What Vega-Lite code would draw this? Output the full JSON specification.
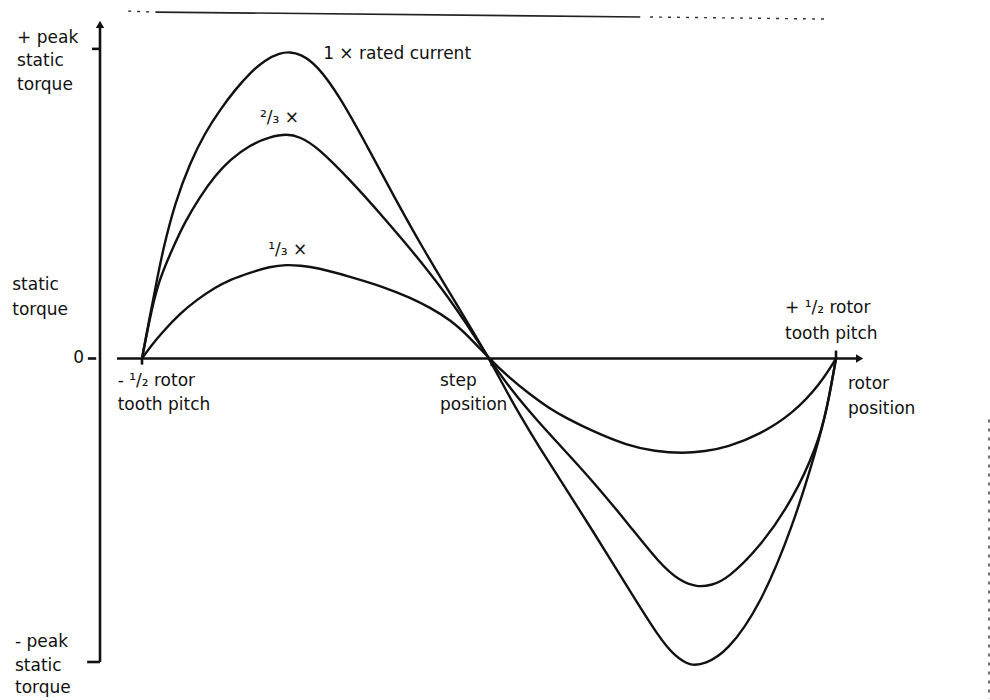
{
  "$schema": "https://vega.github.io/schema/vega-lite/v6.json",
  "width": 990,
  "height": 700,
  "autosize": {"type": "fit", "contains": "padding"},
  "padding": 0,
  "background": "white",
  "config": {"view": {"stroke": null}, "axis": {"disable": true}},
  "datasets": {
    "curves": [
      {"current": "1x", "position": -0.5, "torque": 0},
      {"current": "1x", "position": -0.4885, "torque": 0.1401},
      {"current": "1x", "position": -0.4784, "torque": 0.2573},
      {"current": "1x", "position": -0.4697, "torque": 0.355},
      {"current": "1x", "position": -0.4524, "torque": 0.5081},
      {"current": "1x", "position": -0.4308, "torque": 0.6384},
      {"current": "1x", "position": -0.4092, "torque": 0.7362},
      {"current": "1x", "position": -0.3876, "torque": 0.8111},
      {"current": "1x", "position": -0.366, "torque": 0.8762},
      {"current": "1x", "position": -0.3444, "torque": 0.9316},
      {"current": "1x", "position": -0.3228, "torque": 0.9739},
      {"current": "1x", "position": -0.3012, "torque": 0.9967},
      {"current": "1x", "position": -0.2867, "torque": 1.0},
      {"current": "1x", "position": -0.2723, "torque": 0.9935},
      {"current": "1x", "position": -0.2478, "torque": 0.9577},
      {"current": "1x", "position": -0.2147, "torque": 0.8534},
      {"current": "1x", "position": -0.1758, "torque": 0.6938},
      {"current": "1x", "position": -0.1383, "torque": 0.5342},
      {"current": "1x", "position": -0.0951, "torque": 0.3583},
      {"current": "1x", "position": -0.049, "torque": 0.1857},
      {"current": "1x", "position": 0, "torque": 0},
      {"current": "1x", "position": 0.0231, "torque": -0.0977},
      {"current": "1x", "position": 0.0447, "torque": -0.1857},
      {"current": "1x", "position": 0.0735, "torque": -0.2932},
      {"current": "1x", "position": 0.1023, "torque": -0.3941},
      {"current": "1x", "position": 0.1499, "torque": -0.5635},
      {"current": "1x", "position": 0.1988, "torque": -0.7427},
      {"current": "1x", "position": 0.2464, "torque": -0.9153},
      {"current": "1x", "position": 0.268, "torque": -0.9707},
      {"current": "1x", "position": 0.2896, "torque": -1.0033},
      {"current": "1x", "position": 0.3112, "torque": -0.9967},
      {"current": "1x", "position": 0.3429, "torque": -0.9577},
      {"current": "1x", "position": 0.3905, "torque": -0.8078},
      {"current": "1x", "position": 0.438, "torque": -0.5472},
      {"current": "1x", "position": 0.4726, "torque": -0.2899},
      {"current": "1x", "position": 0.487, "torque": -0.1661},
      {"current": "1x", "position": 0.5, "torque": 0},

      {"current": "2/3x", "position": -0.5, "torque": 0},
      {"current": "2/3x", "position": -0.4885, "torque": 0.1336},
      {"current": "2/3x", "position": -0.4769, "torque": 0.2476},
      {"current": "2/3x", "position": -0.4568, "torque": 0.355},
      {"current": "2/3x", "position": -0.438, "torque": 0.4463},
      {"current": "2/3x", "position": -0.4164, "torque": 0.5277},
      {"current": "2/3x", "position": -0.3948, "torque": 0.5961},
      {"current": "2/3x", "position": -0.3732, "torque": 0.6482},
      {"current": "2/3x", "position": -0.3444, "torque": 0.6971},
      {"current": "2/3x", "position": -0.3156, "torque": 0.7231},
      {"current": "2/3x", "position": -0.2911, "torque": 0.7329},
      {"current": "2/3x", "position": -0.2723, "torque": 0.7231},
      {"current": "2/3x", "position": -0.2478, "torque": 0.6906},
      {"current": "2/3x", "position": -0.2003, "torque": 0.5831},
      {"current": "2/3x", "position": -0.1527, "torque": 0.4625},
      {"current": "2/3x", "position": -0.1037, "torque": 0.3322},
      {"current": "2/3x", "position": -0.0634, "torque": 0.215},
      {"current": "2/3x", "position": -0.0346, "torque": 0.1205},
      {"current": "2/3x", "position": 0, "torque": 0},
      {"current": "2/3x", "position": 0.0303, "torque": -0.0977},
      {"current": "2/3x", "position": 0.0692, "torque": -0.202},
      {"current": "2/3x", "position": 0.1023, "torque": -0.2834},
      {"current": "2/3x", "position": 0.1499, "torque": -0.4007},
      {"current": "2/3x", "position": 0.1988, "torque": -0.5342},
      {"current": "2/3x", "position": 0.2464, "torque": -0.671},
      {"current": "2/3x", "position": 0.2752, "torque": -0.7264},
      {"current": "2/3x", "position": 0.2997, "torque": -0.7459},
      {"current": "2/3x", "position": 0.3213, "torque": -0.7394},
      {"current": "2/3x", "position": 0.3429, "torque": -0.7199},
      {"current": "2/3x", "position": 0.3905, "torque": -0.6156},
      {"current": "2/3x", "position": 0.438, "torque": -0.4593},
      {"current": "2/3x", "position": 0.4726, "torque": -0.2866},
      {"current": "2/3x", "position": 0.487, "torque": -0.1661},
      {"current": "2/3x", "position": 0.5, "torque": 0},

      {"current": "1/3x", "position": -0.5, "torque": 0},
      {"current": "1/3x", "position": -0.4856, "torque": 0.0456},
      {"current": "1/3x", "position": -0.4697, "torque": 0.0879},
      {"current": "1/3x", "position": -0.4452, "torque": 0.1466},
      {"current": "1/3x", "position": -0.4207, "torque": 0.1922},
      {"current": "1/3x", "position": -0.3948, "torque": 0.2313},
      {"current": "1/3x", "position": -0.3732, "torque": 0.2573},
      {"current": "1/3x", "position": -0.3444, "torque": 0.2801},
      {"current": "1/3x", "position": -0.3156, "torque": 0.2997},
      {"current": "1/3x", "position": -0.2911, "torque": 0.3062},
      {"current": "1/3x", "position": -0.2723, "torque": 0.3029},
      {"current": "1/3x", "position": -0.2478, "torque": 0.2964},
      {"current": "1/3x", "position": -0.2003, "torque": 0.2671},
      {"current": "1/3x", "position": -0.1527, "torque": 0.2345},
      {"current": "1/3x", "position": -0.1138, "torque": 0.1987},
      {"current": "1/3x", "position": -0.085, "torque": 0.1661},
      {"current": "1/3x", "position": -0.0562, "torque": 0.127},
      {"current": "1/3x", "position": -0.0274, "torque": 0.0684},
      {"current": "1/3x", "position": 0, "torque": 0},
      {"current": "1/3x", "position": 0.0288, "torque": -0.0619},
      {"current": "1/3x", "position": 0.0591, "torque": -0.1173},
      {"current": "1/3x", "position": 0.085, "torque": -0.1596},
      {"current": "1/3x", "position": 0.1095, "torque": -0.1922},
      {"current": "1/3x", "position": 0.1499, "torque": -0.2378},
      {"current": "1/3x", "position": 0.1988, "torque": -0.2834},
      {"current": "1/3x", "position": 0.2392, "torque": -0.3029},
      {"current": "1/3x", "position": 0.2795, "torque": -0.3094},
      {"current": "1/3x", "position": 0.3112, "torque": -0.3029},
      {"current": "1/3x", "position": 0.3429, "torque": -0.2899},
      {"current": "1/3x", "position": 0.3905, "torque": -0.2476},
      {"current": "1/3x", "position": 0.438, "torque": -0.1792},
      {"current": "1/3x", "position": 0.4769, "torque": -0.0847},
      {"current": "1/3x", "position": 0.5, "torque": 0}
    ],
    "axisLines": [
      {"part": "torque axis", "position": -0.5605, "torque": -0.99, "position_end": -0.5605, "torque_end": 1.085},
      {"part": "+peak tick", "position": -0.572, "torque": 1.01, "position_end": -0.5605, "torque_end": 1.01},
      {"part": "-peak tick", "position": -0.579, "torque": -0.99, "position_end": -0.5605, "torque_end": -0.99},
      {"part": "zero tick", "position": -0.578, "torque": 0, "position_end": -0.566, "torque_end": 0},
      {"part": "position axis", "position": -0.536, "torque": 0, "position_end": 0.53, "torque_end": 0},
      {"part": "-1/2 pitch tick", "position": -0.5, "torque": 0, "position_end": -0.5, "torque_end": -0.02},
      {"part": "step tick", "position": 0.004, "torque": 0, "position_end": 0.004, "torque_end": -0.025},
      {"part": "+1/2 pitch tick", "position": 0.5, "torque": 0, "position_end": 0.5, "torque_end": 0.026}
    ],
    "arrowHeads": [
      {"direction": "up", "position": -0.5605, "torque": 1.09},
      {"direction": "right", "position": 0.534, "torque": 0}
    ],
    "paperEdgeSolid": [
      {"position": -0.48, "torque": 1.13, "position_end": 0.218, "torque_end": 1.114}
    ],
    "paperEdgeDotted": [
      {"position": -0.52, "torque": 1.133, "position_end": -0.48, "torque_end": 1.13},
      {"position": 0.232, "torque": 1.114, "position_end": 0.491, "torque_end": 1.107},
      {"position": 0.7205, "torque": -0.199, "position_end": 0.7205, "torque_end": -1.11}
    ],
    "labels": [
      {"label": "+ peak", "position": -0.68, "torque": 1.029},
      {"label": "static", "position": -0.68, "torque": 0.954},
      {"label": "torque", "position": -0.68, "torque": 0.876},
      {"label": "static", "position": -0.687, "torque": 0.225},
      {"label": "torque", "position": -0.687, "torque": 0.143},
      {"label": "0", "position": -0.599, "torque": -0.016},
      {"label": "- peak", "position": -0.683, "torque": -0.941},
      {"label": "static", "position": -0.683, "torque": -1.02},
      {"label": "torque", "position": -0.683, "torque": -1.091},
      {"label": "- ¹/₂ rotor", "position": -0.535, "torque": -0.091},
      {"label": "tooth pitch", "position": -0.535, "torque": -0.169},
      {"label": "step", "position": -0.0706, "torque": -0.091},
      {"label": "position", "position": -0.0706, "torque": -0.169},
      {"label": "+ ¹/₂ rotor", "position": 0.4265, "torque": 0.15},
      {"label": "tooth pitch", "position": 0.4265, "torque": 0.065},
      {"label": "rotor", "position": 0.5173, "torque": -0.101},
      {"label": "position", "position": 0.5173, "torque": -0.182},
      {"label": "1 × rated current", "position": -0.239, "torque": 0.977},
      {"label": "²/₃ ×", "position": -0.33, "torque": 0.769},
      {"label": "¹/₃ ×", "position": -0.318, "torque": 0.339}
    ]
  },
  "encoding": {
    "x": {"field": "position", "type": "quantitative", "scale": {"domain": [-0.7046, 0.7219], "nice": false, "zero": false}, "axis": null},
    "y": {"field": "torque", "type": "quantitative", "scale": {"domain": [-1.1107, 1.1694], "nice": false, "zero": false}, "axis": null}
  },
  "layer": [
    {
      "data": {"name": "paperEdgeSolid"},
      "mark": {"type": "rule", "stroke": "#222", "strokeWidth": 1.6},
      "encoding": {"x2": {"field": "position_end"}, "y2": {"field": "torque_end"}}
    },
    {
      "data": {"name": "paperEdgeDotted"},
      "mark": {"type": "rule", "stroke": "#333", "strokeWidth": 1.4, "strokeDash": [3, 6]},
      "encoding": {"x2": {"field": "position_end"}, "y2": {"field": "torque_end"}}
    },
    {
      "data": {"name": "axisLines"},
      "mark": {"type": "rule", "stroke": "#111", "strokeWidth": 2.6},
      "encoding": {"x2": {"field": "position_end"}, "y2": {"field": "torque_end"}}
    },
    {
      "data": {"name": "arrowHeads"},
      "transform": [{"filter": "datum.direction === 'up'"}],
      "mark": {"type": "point", "shape": "triangle-up", "filled": true, "color": "#111", "opacity": 1, "size": 70}
    },
    {
      "data": {"name": "arrowHeads"},
      "transform": [{"filter": "datum.direction === 'right'"}],
      "mark": {"type": "point", "shape": "triangle-right", "filled": true, "color": "#111", "opacity": 1, "size": 70}
    },
    {
      "data": {"name": "curves"},
      "mark": {"type": "line", "interpolate": "basis", "stroke": "#111", "strokeWidth": 2.4},
      "encoding": {"detail": {"field": "current", "type": "nominal"}}
    },
    {
      "data": {"name": "labels"},
      "mark": {"type": "text", "align": "left", "baseline": "alphabetic", "font": "DejaVu Sans", "fontSize": 17, "fill": "#111"},
      "encoding": {"text": {"field": "label", "type": "nominal"}}
    }
  ]
}
